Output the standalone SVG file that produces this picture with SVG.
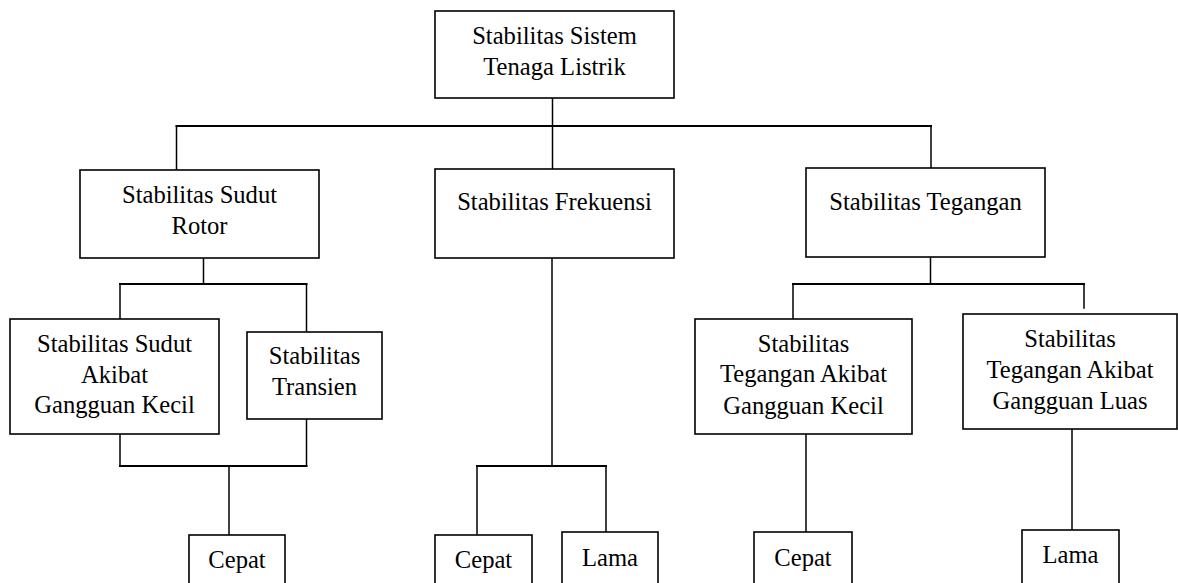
<svg xmlns="http://www.w3.org/2000/svg" width="1178" height="583" viewBox="0 0 1178 583">
<style>
.box{fill:#fff;stroke:#000;stroke-width:1.6}
.t{font-family:"Liberation Serif","Times New Roman",serif;font-size:24.6px;fill:#000;text-anchor:middle}
.c line{stroke:#000;stroke-width:1.5;stroke-linecap:square}
.c .h{stroke-width:2}
</style>
<rect width="1178" height="583" fill="#fff"/>
<g id="connectors" class="c">
<line x1="552.5" y1="98" x2="552.5" y2="169"/>
<line class="h" x1="176.5" y1="126" x2="931" y2="126"/>
<line x1="176.5" y1="126" x2="176.5" y2="170"/>
<line x1="931" y1="126" x2="931" y2="168"/>
<line x1="203.5" y1="258" x2="203.5" y2="284"/>
<line class="h" x1="120" y1="284" x2="306.5" y2="284"/>
<line x1="120" y1="284" x2="120" y2="319"/>
<line x1="306.5" y1="284" x2="306.5" y2="332"/>
<line x1="120" y1="434" x2="120" y2="466"/>
<line x1="306.5" y1="419" x2="306.5" y2="466"/>
<line class="h" x1="120" y1="466" x2="306.5" y2="466"/>
<line x1="229" y1="466" x2="229" y2="535"/>
<line x1="552" y1="258" x2="552" y2="466"/>
<line class="h" x1="477" y1="466" x2="606" y2="466"/>
<line x1="477" y1="466" x2="477" y2="534"/>
<line x1="606" y1="466" x2="606" y2="534"/>
<line x1="930.5" y1="257" x2="930.5" y2="284"/>
<line class="h" x1="793" y1="284" x2="1084" y2="284"/>
<line x1="793" y1="284" x2="793" y2="319"/>
<line x1="1084" y1="284" x2="1084" y2="308"/>
<line x1="806" y1="431" x2="806" y2="532"/>
<line x1="1072" y1="429" x2="1072" y2="530"/>
</g>
<g id="n-root"><rect class="box" x="435" y="11" width="239" height="87"/><text class="t" x="554.5" y="44">Stabilitas Sistem</text><text class="t" x="554.5" y="75">Tenaga Listrik</text></g>
<g id="n-rotor"><rect class="box" x="80" y="170" width="239" height="88"/><text class="t" x="199.5" y="203">Stabilitas Sudut</text><text class="t" x="199.5" y="234">Rotor</text></g>
<g id="n-frek"><rect class="box" x="435" y="169" width="239" height="89"/><text class="t" x="554.5" y="210">Stabilitas Frekuensi</text></g>
<g id="n-teg"><rect class="box" x="806" y="168" width="239" height="89"/><text class="t" x="925.5" y="210">Stabilitas Tegangan</text></g>
<g id="n-sudut-kecil"><rect class="box" x="10" y="319" width="209" height="115"/><text class="t" x="114.5" y="352">Stabilitas Sudut</text><text class="t" x="114.5" y="383">Akibat</text><text class="t" x="114.5" y="413">Gangguan Kecil</text></g>
<g id="n-transien"><rect class="box" x="247" y="332" width="135" height="87"/><text class="t" x="314.5" y="364">Stabilitas</text><text class="t" x="314.5" y="395">Transien</text></g>
<g id="n-teg-kecil"><rect class="box" x="695" y="319" width="217" height="115"/><text class="t" x="803.5" y="352">Stabilitas</text><text class="t" x="803.5" y="382">Tegangan Akibat</text><text class="t" x="803.5" y="414">Gangguan Kecil</text></g>
<g id="n-teg-luas"><rect class="box" x="963" y="314" width="214" height="115"/><text class="t" x="1070" y="347">Stabilitas</text><text class="t" x="1070" y="378">Tegangan Akibat</text><text class="t" x="1070" y="409">Gangguan Luas</text></g>
<g id="n-cepat1"><rect class="box" x="189" y="535" width="96" height="60"/><text class="t" x="237" y="568">Cepat</text></g>
<g id="n-cepat2"><rect class="box" x="435" y="535" width="97" height="60"/><text class="t" x="483.5" y="568">Cepat</text></g>
<g id="n-lama1"><rect class="box" x="562" y="532" width="96" height="63"/><text class="t" x="610" y="566">Lama</text></g>
<g id="n-cepat3"><rect class="box" x="754" y="532" width="98" height="63"/><text class="t" x="803" y="566">Cepat</text></g>
<g id="n-lama2"><rect class="box" x="1022" y="530" width="97" height="65"/><text class="t" x="1070.5" y="563">Lama</text></g>
</svg>
